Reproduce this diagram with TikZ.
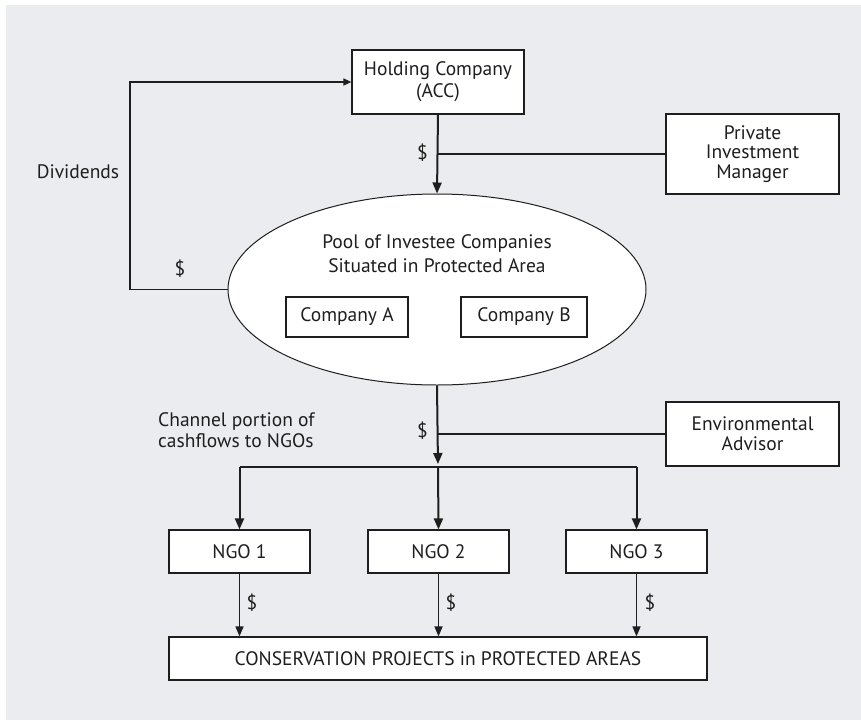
\documentclass[tikz,border=0pt]{standalone}
\usepackage{fontspec}
\setmainfont{PT Sans}
\usetikzlibrary{arrows.meta,shapes.geometric}
\definecolor{panel}{HTML}{EBECF0}
\definecolor{ink}{HTML}{1E1E1E}
\begin{document}
\begin{tikzpicture}[x=1pt,y=-1pt,
  txt/.style={font=\fontsize{19.5}{21}\selectfont, text=ink},
  box/.style={txt, draw=ink, line width=1.2pt, fill=white, inner sep=0pt, align=center},
  lbl/.style={txt, inner sep=0pt},
  flow/.style={draw=ink, line width=2pt, -{Triangle[width=9pt,length=11pt]}},
  flowthin/.style={draw=ink, line width=1.5pt, -{Triangle[width=8pt,length=10pt]}},
  link/.style={draw=ink, line width=1.1pt},
]
% canvas and panel
\useasboundingbox (0,0) rectangle (861,720);
\fill[white] (0,0) rectangle (861,720);
\fill[panel] (6,5) rectangle (861,720);

% boxes
\node[box, minimum width=172pt, minimum height=64pt,
      font=\fontsize{19.5}{22}\selectfont] (hold) at (438,82) {Holding Company\\(ACC)};
\node[box, minimum width=173pt, minimum height=80pt,
      font=\fontsize{19.5}{19.5}\selectfont] (priv) at (752.5,154) {Private\\Investment\\Manager};
\node[draw=ink, line width=1pt, fill=white, ellipse, inner sep=0pt,
      minimum width=418pt, minimum height=191pt] (pool) at (437,289.5) {};
\node[lbl, align=center, font=\fontsize{19.5}{24}\selectfont] (pooltxt) at (437,254)
      {Pool of Investee Companies\\Situated in Protected Area};
\node[box, minimum width=122pt, minimum height=40pt] (ca) at (347,317) {Company A};
\node[box, minimum width=126pt, minimum height=40pt] (cb) at (524,317) {Company B};
\node[box, minimum width=173pt, minimum height=64pt,
      font=\fontsize{19.5}{20}\selectfont] (env) at (752.5,434) {Environmental\\Advisor};
\node[box, minimum width=141pt, minimum height=43pt] (ngo1) at (239.5,551.5) {NGO 1};
\node[box, minimum width=141pt, minimum height=43pt] (ngo2) at (438.5,551.5) {NGO 2};
\node[box, minimum width=141pt, minimum height=43pt] (ngo3) at (636.5,551.5) {NGO 3};
\node[box, minimum width=538pt, minimum height=43pt] (cons) at (438,658.5)
      {CONSERVATION PROJECTS in PROTECTED AREAS};

% holding company -> pool, with the manager tapping in
\draw[flow] (hold.south) -- (pool.north);
\coordinate (j1) at (hold.south |- priv.west);
\draw[link] (j1) -- (priv.west);
\node[lbl, anchor=east] (d1) at (428,153) {\$};

% dividends back to the holding company
\coordinate (dv) at (130,82);
\draw[draw=ink, line width=1.5pt, -{Triangle[width=7pt,length=8pt]}]
  (pool.west) -| (dv) -- (hold.west);
\node[lbl] (divtxt) at (78,172) {Dividends};
\node[lbl] (d2) at (180,269) {\$};

% pool -> distribution bar, with the advisor tapping in
\coordinate (bar) at (438,467);
\coordinate (barL) at (ngo1.north |- bar);
\coordinate (barR) at (ngo3.north |- bar);
\draw[flow, shorten >=3pt] (pool.south) -- (bar);
\coordinate (j2) at (pool.south |- env.west);
\draw[link] (j2) -- (env.west);
\node[lbl, anchor=east] (d3) at (428,431) {\$};
\node[lbl, anchor=west, align=left, font=\fontsize{19.5}{20.5}\selectfont] (chtxt) at (158,430)
      {Channel portion of\\cashflows to NGOs};
\draw[draw=ink, line width=1.3pt] (barL) -- (barR);

% bar -> NGOs
\draw[flow] (barL) -- (ngo1.north);
\draw[flow] (bar) -- (ngo2.north);
\draw[flow] (barR) -- (ngo3.north);

% NGOs -> conservation projects
\draw[flowthin] (ngo1.south) -- (ngo1.south |- cons.north);
\draw[flowthin] (ngo2.south) -- (ngo2.south |- cons.north);
\draw[flowthin] (ngo3.south) -- (ngo3.south |- cons.north);
\node[lbl] (d4) at (252,603) {\$};
\node[lbl] (d5) at (451,603) {\$};
\node[lbl] (d6) at (650,603) {\$};
\end{tikzpicture}
\end{document}
